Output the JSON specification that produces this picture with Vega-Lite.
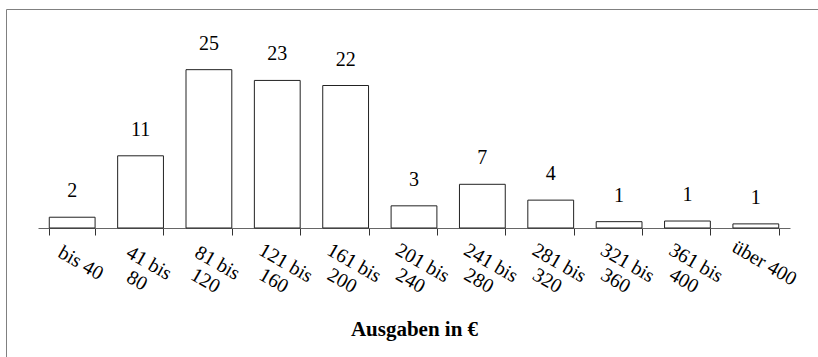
{
  "$schema": "https://vega.github.io/schema/vega-lite/v6.json",
  "autosize": "none",
  "padding": {"left": 6, "top": 9, "right": 0, "bottom": 0},
  "width": 812,
  "height": 348,
  "background": "white",
  "config": {"view": {"stroke": "#808080", "strokeWidth": 1}},
  "data": {
    "values": [
      {"klasse": "bis 40", "anteil": 1.7, "label": "2", "zeile2": ""},
      {"klasse": "41 bis", "anteil": 11.4, "label": "11", "zeile2": "80"},
      {"klasse": "81 bis", "anteil": 25.0, "label": "25", "zeile2": "120"},
      {"klasse": "121 bis", "anteil": 23.3, "label": "23", "zeile2": "160"},
      {"klasse": "161 bis", "anteil": 22.5, "label": "22", "zeile2": "200"},
      {"klasse": "201 bis", "anteil": 3.5, "label": "3", "zeile2": "240"},
      {"klasse": "241 bis", "anteil": 6.9, "label": "7", "zeile2": "280"},
      {"klasse": "281 bis", "anteil": 4.4, "label": "4", "zeile2": "320"},
      {"klasse": "321 bis", "anteil": 1.0, "label": "1", "zeile2": "360"},
      {"klasse": "361 bis", "anteil": 1.1, "label": "1", "zeile2": "400"},
      {"klasse": "über 400", "anteil": 0.65, "label": "1", "zeile2": ""}
    ]
  },
  "encoding": {
    "x": {
      "field": "klasse",
      "type": "nominal",
      "sort": null,
      "scale": {"range": [32, 784], "paddingInner": 0.33, "paddingOuter": 0.165},
      "axis": {
        "orient": "bottom",
        "offset": -129,
        "domainColor": "#666666",
        "tickColor": "#333333",
        "tickSize": 7,
        "tickBand": "extent",
        "labelAngle": 30,
        "labelAlign": "center",
        "labelBaseline": "top",
        "labelPadding": 19,
        "labelOffset": 13,
        "labelFont": "Liberation Serif",
        "labelFontSize": 20,
        "labelColor": "#000000",
        "labelOverlap": false,
        "title": "Ausgaben in €",
        "titleFont": "Liberation Serif",
        "titleFontSize": 21,
        "titleFontWeight": "bold",
        "titleColor": "#000000",
        "titleBaseline": "alphabetic",
        "titleY": 107,
        "grid": false
      }
    },
    "y": {
      "field": "anteil",
      "type": "quantitative",
      "scale": {"domain": [-20.37, 34.58], "nice": false, "zero": false},
      "axis": null
    }
  },
  "layer": [
    {
      "mark": {"type": "bar", "fill": "white", "stroke": "#222222", "strokeWidth": 1},
      "encoding": {"y2": {"datum": 0}}
    },
    {
      "mark": {"type": "text", "dy": -20, "baseline": "alphabetic", "font": "Liberation Serif", "fontSize": 20, "color": "#000000"},
      "encoding": {"text": {"field": "label"}}
    },
    {
      "mark": {"type": "text", "angle": 30, "align": "center", "baseline": "top", "dx": 23.3, "dy": 37.4, "font": "Liberation Serif", "fontSize": 20, "color": "#000000"},
      "encoding": {"y": {"datum": 0}, "text": {"field": "zeile2"}}
    }
  ]
}
